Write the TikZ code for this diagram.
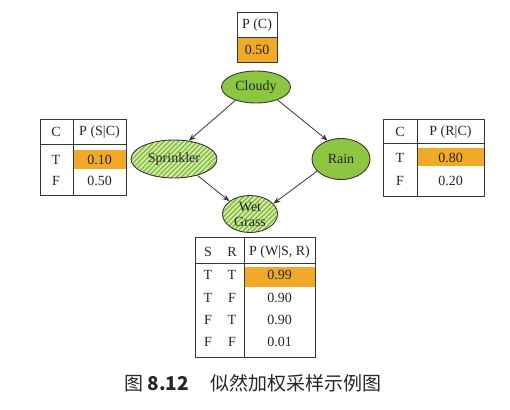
\documentclass[tikz,border=0pt]{standalone}
\usepackage{fontspec}
\setmainfont{Liberation Serif}
\newfontfamily\cjk{Noto Sans CJK SC}
\usetikzlibrary{shapes.geometric,patterns.meta,arrows.meta}
\definecolor{leaf}{RGB}{141,198,63}
\definecolor{amber}{RGB}{240,170,40}
\definecolor{ink}{RGB}{55,55,55}
\tikzset{
  bn/.style={ellipse, draw=ink, line width=0.9pt, fill=leaf, inner sep=0pt, text=black!85,
    font=\fontsize{14}{15}\selectfont, align=center},
  hatch/.style={preaction={fill=leaf}, pattern={Lines[angle=45,distance=3.4pt,line width=1.1pt]}, pattern color=white!85!leaf},
  cell/.style={inner sep=0pt, text=black!85, font=\fontsize{14}{15}\selectfont},
  grid/.style={draw=ink, line width=0.9pt},
  edge/.style={draw=ink, line width=0.8pt, -{Stealth[length=7pt,width=5.5pt]}},
}
\begin{document}
\begin{tikzpicture}[x=1pt,y=-1pt]
\useasboundingbox (0,0) rectangle (510,409);
% nodes
\node[bn, minimum width=69pt, minimum height=32pt] (cloudy) at (256,87) {Cloudy};
\node[bn, hatch, minimum width=86pt, minimum height=38pt] (spr) at (174,159) {Sprinkler};
\node[bn, minimum width=58pt, minimum height=41pt] (rain) at (341,159) {Rain};
\node[bn, hatch, minimum width=55pt, minimum height=37pt] (wg) at (250,214) {Wet\\Grass};
% edges
\draw[edge] (cloudy.213) -- (spr.51);
\draw[edge] (cloudy.-31) -- (rain.126);
\draw[edge] (spr.-35) -- (wg.148);
\draw[edge] (rain.207) -- (wg.24);
% table P(C)
\fill[amber] (237,37) rectangle (277,62);
\draw[grid] (237,12) rectangle (277,62);
\draw[grid] (237,37) -- (277,37);
\node[cell] (pc) at (257,25) {P (C)};
\node[cell] (pcv) at (257,50) {0.50};
% table P(S|C)
\fill[amber] (73,150) rectangle (126,169);
\draw[grid] (40,119) rectangle (126,195);
\draw[grid] (73,119) -- (73,195);
\draw[grid] (40,144) -- (126,144);
\node[cell] (sc1) at (56,132) {C};
\node[cell] (sc2) at (99.5,132) {P (S|C)};
\node[cell] (sc3) at (56,160) {T};
\node[cell] (sc4) at (99.5,160) {0.10};
\node[cell] (sc5) at (56,181) {F};
\node[cell] (sc6) at (99.5,181) {0.50};
% table P(R|C)
\fill[amber] (417,148) rectangle (484,166);
\draw[grid] (383,119) rectangle (484,196);
\draw[grid] (417,119) -- (417,196);
\draw[grid] (383,143) -- (484,143);
\node[cell] (rc1) at (400,132) {C};
\node[cell] (rc2) at (450.5,132) {P (R|C)};
\node[cell] (rc3) at (400,158) {T};
\node[cell] (rc4) at (450.5,158) {0.80};
\node[cell] (rc5) at (400,181) {F};
\node[cell] (rc6) at (450.5,181) {0.20};
% table P(W|S,R)
\fill[amber] (244,267) rectangle (315,287);
\draw[grid] (195,237) rectangle (315,357);
\draw[grid] (244,237) -- (244,357);
\draw[grid] (195,263) -- (315,263);
\node[cell] (w1) at (208,252) {S};
\node[cell] (w2) at (232,252) {R};
\node[cell] (w3) at (279.5,252) {P (W|S, R)};
\node[cell] (w4) at (208,275) {T};
\node[cell] (w5) at (232,275) {T};
\node[cell] (w6) at (279.5,275) {0.99};
\node[cell] (w7) at (208,298) {T};
\node[cell] (w8) at (232,298) {F};
\node[cell] (w9) at (279.5,298) {0.90};
\node[cell] (w10) at (208,320) {F};
\node[cell] (w11) at (232,320) {T};
\node[cell] (w12) at (279.5,320) {0.90};
\node[cell] (w13) at (208,342) {F};
\node[cell] (w14) at (232,342) {F};
\node[cell] (w15) at (279.5,342) {0.01};
% caption
\node[inner sep=0pt, anchor=west, text=black!85, font=\cjk\fontsize{19}{19}\selectfont] (cap) at (124,383) {图 \textbf{8.12}\hspace{1.15em}似然加权采样示例图};
\end{tikzpicture}
\end{document}
